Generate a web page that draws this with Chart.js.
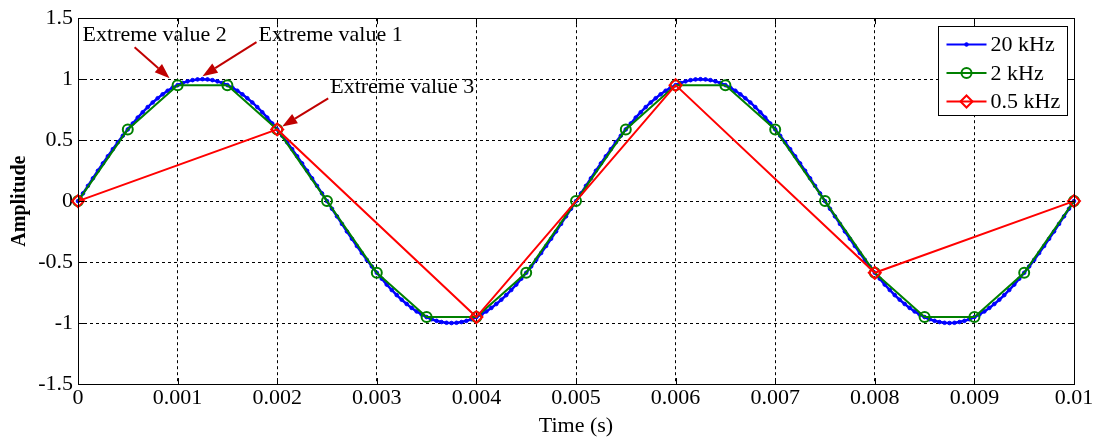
<!DOCTYPE html>
<html>
<head>
<meta charset="utf-8">
<script src="https://cdn.jsdelivr.net/npm/chart.js@4.4.1/dist/chart.umd.min.js"></script>
<style>
  html, body { margin: 0; padding: 0; background: #fff; }
  #wrap { width: 1096px; height: 441px; }
</style>
</head>
<body>
<div id="wrap"><canvas id="sineChart" width="1096" height="441"></canvas></div>
<script>
// Sampling rates of the three series (Hz).
var rate20k = 20000;
var rate2k = 2000;
var rate05k = 500;

// 20 kHz samples.
var amp20k = [
  0, 0.063, 0.125, 0.187, 0.249, 0.309, 0.368, 0.426, 0.482, 0.536, 0.588, 0.637, 0.685, 0.729, 0.771, 0.809, 0.844, 0.876, 0.905, 0.930, 0.951, 0.969, 0.982, 0.992, 0.998, 1,
  0.998, 0.992, 0.982, 0.969, 0.951, 0.930, 0.905, 0.876, 0.844, 0.809, 0.771, 0.729, 0.685, 0.637, 0.588, 0.536, 0.482, 0.426, 0.368, 0.309, 0.249, 0.187, 0.125, 0.063, 0,
  -0.063, -0.125, -0.187, -0.249, -0.309, -0.368, -0.426, -0.482, -0.536, -0.588, -0.637, -0.685, -0.729, -0.771, -0.809, -0.844, -0.876, -0.905, -0.930, -0.951, -0.969, -0.982, -0.992, -0.998, -1,
  -0.998, -0.992, -0.982, -0.969, -0.951, -0.930, -0.905, -0.876, -0.844, -0.809, -0.771, -0.729, -0.685, -0.637, -0.588, -0.536, -0.482, -0.426, -0.368, -0.309, -0.249, -0.187, -0.125, -0.063, 0,
  0.063, 0.125, 0.187, 0.249, 0.309, 0.368, 0.426, 0.482, 0.536, 0.588, 0.637, 0.685, 0.729, 0.771, 0.809, 0.844, 0.876, 0.905, 0.930, 0.951, 0.969, 0.982, 0.992, 0.998, 1,
  0.998, 0.992, 0.982, 0.969, 0.951, 0.930, 0.905, 0.876, 0.844, 0.809, 0.771, 0.729, 0.685, 0.637, 0.588, 0.536, 0.482, 0.426, 0.368, 0.309, 0.249, 0.187, 0.125, 0.063, 0,
  -0.063, -0.125, -0.187, -0.249, -0.309, -0.368, -0.426, -0.482, -0.536, -0.588, -0.637, -0.685, -0.729, -0.771, -0.809, -0.844, -0.876, -0.905, -0.930, -0.951, -0.969, -0.982, -0.992, -0.998, -1,
  -0.998, -0.992, -0.982, -0.969, -0.951, -0.930, -0.905, -0.876, -0.844, -0.809, -0.771, -0.729, -0.685, -0.637, -0.588, -0.536, -0.482, -0.426, -0.368, -0.309, -0.249, -0.187, -0.125, -0.063, 0
];

// 2 kHz samples.
var amp2k = [0, 0.588, 0.951, 0.951, 0.588, 0, -0.588, -0.951, -0.951, -0.588, 0,
             0.588, 0.951, 0.951, 0.588, 0, -0.588, -0.951, -0.951, -0.588, 0];

// 0.5 kHz samples.
var amp05k = [0, 0.588, -0.951, 0.951, -0.588, 0];

var seriesNames = ['20 kHz', '2 kHz', '0.5 kHz'];
var xTickLabels = ['0', '0.001', '0.002', '0.003', '0.004', '0.005', '0.006', '0.007', '0.008', '0.009', '0.01'];
var yTickLabels = ['-1.5', '-1', '-0.5', '0', '0.5', '1', '1.5'];

// Arrow notes: the point each one marks (data units) and pixel offsets from it.
var notes = [
  { text: 'Extreme value 2', x: 0.001, y: 0.951, tip: [-8, -7], tail: [-43, -38], label: [-95, -50] },
  { text: 'Extreme value 1', x: 0.00125, y: 1, tip: [0, -3], tail: [54, -37], label: [56, -44] },
  { text: 'Extreme value 3', x: 0.002, y: 0.588, tip: [5, -3], tail: [51, -31], label: [53, -42] }
];

var SERIF = '"Liberation Serif", "Times New Roman", serif';

// turn samples into {x, y} points, time = index / sampling rate
function toPoints(values, rate) {
  return values.map(function (v, i) { return { x: i / rate, y: v }; });
}

// Frame, inward tick marks, legend box and arrow notes.
var decorPlugin = {
  id: 'decor',
  afterDatasetsDraw: function (chart) {
    var ctx = chart.ctx;
    var area = chart.chartArea;
    var xs = chart.scales.x;
    var ys = chart.scales.y;
    ctx.save();

    // inward tick marks
    ctx.strokeStyle = '#000';
    ctx.lineWidth = 1;
    ctx.beginPath();
    xTickLabels.forEach(function (t) {
      var px = Math.round(xs.getPixelForValue(parseFloat(t))) + 0.5;
      ctx.moveTo(px, area.bottom); ctx.lineTo(px, area.bottom - 6);
      ctx.moveTo(px, area.top); ctx.lineTo(px, area.top + 6);
    });
    yTickLabels.forEach(function (t) {
      var py = Math.round(ys.getPixelForValue(parseFloat(t))) + 0.5;
      ctx.moveTo(area.left, py); ctx.lineTo(area.left + 6, py);
      ctx.moveTo(area.right, py); ctx.lineTo(area.right - 6, py);
    });
    ctx.stroke();

    // frame
    ctx.strokeRect(Math.round(area.left) + 0.5, Math.round(area.top) + 0.5,
                   Math.round(area.right - area.left), Math.round(area.bottom - area.top));

    // arrow notes
    ctx.fillStyle = '#c00000';
    ctx.strokeStyle = '#c00000';
    ctx.lineWidth = 2;
    notes.forEach(function (n) {
      var px = xs.getPixelForValue(n.x);
      var py = ys.getPixelForValue(n.y);
      var tx = px + n.tip[0], ty = py + n.tip[1];
      var sx = px + n.tail[0], sy = py + n.tail[1];
      var ang = Math.atan2(ty - sy, tx - sx);
      var headLen = 15, headW = 5.5;
      var bx = tx - headLen * Math.cos(ang), by = ty - headLen * Math.sin(ang);
      ctx.beginPath();
      ctx.moveTo(sx, sy);
      ctx.lineTo(bx, by);
      ctx.stroke();
      ctx.beginPath();
      ctx.moveTo(tx, ty);
      ctx.lineTo(bx + headW * Math.sin(ang), by - headW * Math.cos(ang));
      ctx.lineTo(bx - headW * Math.sin(ang), by + headW * Math.cos(ang));
      ctx.closePath();
      ctx.fill();
    });
    ctx.fillStyle = '#000';
    ctx.font = '22px ' + SERIF;
    ctx.textAlign = 'left';
    ctx.textBaseline = 'middle';
    notes.forEach(function (n) {
      var px = xs.getPixelForValue(n.x);
      var py = ys.getPixelForValue(n.y);
      ctx.fillText(n.text, px + n.label[0], py + n.label[1]);
    });

    // legend box in the top right corner
    var boxW = 129, boxH = 89;
    var bx0 = Math.round(area.right - 7 - boxW) + 0.5;
    var by0 = Math.round(area.top + 8) + 0.5;
    ctx.fillStyle = '#fff';
    ctx.fillRect(bx0, by0, boxW, boxH);
    ctx.strokeStyle = '#000';
    ctx.lineWidth = 1;
    ctx.strokeRect(bx0, by0, boxW, boxH);
    chart.data.datasets.forEach(function (ds, i) {
      var rowY = by0 + 18 + i * 28.5;
      var x0 = bx0 + 8, x1 = bx0 + 48, mx = (x0 + x1) / 2;
      ctx.strokeStyle = ds.borderColor;
      ctx.lineWidth = 2;
      ctx.beginPath();
      ctx.moveTo(x0, rowY);
      ctx.lineTo(x1, rowY);
      ctx.stroke();
      ctx.fillStyle = ds.pointBackgroundColor;
      ctx.strokeStyle = ds.borderColor;
      ctx.lineWidth = ds.pointBorderWidth;
      Chart.helpers.drawPoint(ctx, {
        pointStyle: ds.pointStyle,
        radius: ds.pointRadius,
        borderWidth: ds.pointBorderWidth,
        rotation: 0
      }, mx, rowY);
      ctx.fillStyle = '#000';
      ctx.font = '22px ' + SERIF;
      ctx.fillText(ds.label, x1 + 4, rowY + 1);
    });

    ctx.restore();
  }
};

var ctx = document.getElementById('sineChart').getContext('2d');
var chart = new Chart(ctx, {
  type: 'line',
  data: {
    datasets: [{
      label: seriesNames[0],
      data: toPoints(amp20k, rate20k),
      borderColor: '#0000ff',
      backgroundColor: '#0000ff',
      borderWidth: 2.5,
      pointStyle: 'circle',
      pointRadius: 1.8,
      pointBorderWidth: 1,
      pointBackgroundColor: '#0000ff',
      order: 3,
      clip: false
    }, {
      label: seriesNames[1],
      data: toPoints(amp2k, rate2k),
      borderColor: '#008000',
      backgroundColor: 'rgba(0,0,0,0)',
      borderWidth: 2,
      pointStyle: 'circle',
      pointRadius: 5,
      pointBorderWidth: 2,
      pointBackgroundColor: 'rgba(0,0,0,0)',
      order: 2,
      clip: false
    }, {
      label: seriesNames[2],
      data: toPoints(amp05k, rate05k),
      borderColor: '#ff0000',
      backgroundColor: 'rgba(0,0,0,0)',
      borderWidth: 2,
      pointStyle: 'rectRot',
      pointRadius: 6,
      pointBorderWidth: 2,
      pointBackgroundColor: 'rgba(0,0,0,0)',
      order: 1,
      clip: false
    }]
  },
  options: {
    responsive: false,
    animation: false,
    events: [],
    layout: { padding: { left: 0, right: 22, top: 15, bottom: 0 } },
    elements: { line: { tension: 0 } },
    plugins: {
      legend: { display: false },
      tooltip: { enabled: false }
    },
    scales: {
      x: {
        type: 'linear',
        min: 0,
        max: 0.01,
        afterFit: function (s) { s.height = 57; },
        afterBuildTicks: function (s) {
          s.ticks = xTickLabels.map(function (t) { return { value: parseFloat(t) }; });
        },
        ticks: {
          color: '#000',
          font: { family: SERIF, size: 22 },
          padding: 1,
          maxRotation: 0,
          autoSkip: false,
          callback: function (v, i) { return xTickLabels[i]; }
        },
        grid: { color: '#000', lineWidth: 1, drawTicks: false },
        border: { display: false, dash: [3, 3] },
        title: {
          display: true,
          text: 'Time (s)',
          color: '#000',
          font: { family: SERIF, size: 22 },
          padding: { top: 0, bottom: 2 }
        }
      },
      y: {
        min: -1.5,
        max: 1.5,
        afterFit: function (s) { s.width = 78; },
        afterBuildTicks: function (s) {
          s.ticks = yTickLabels.map(function (t) { return { value: parseFloat(t) }; });
        },
        ticks: {
          color: '#000',
          font: { family: SERIF, size: 22 },
          padding: 5,
          autoSkip: false,
          callback: function (v, i) { return yTickLabels[i]; }
        },
        grid: { color: '#000', lineWidth: 1, drawTicks: false },
        border: { display: false, dash: [3, 3] },
        title: {
          display: true,
          text: 'Amplitude',
          color: '#000',
          font: { family: SERIF, size: 20, weight: 'bold' },
          padding: { top: 8, bottom: 0 }
        }
      }
    }
  },
  plugins: [decorPlugin]
});
</script>
</body>
</html>
